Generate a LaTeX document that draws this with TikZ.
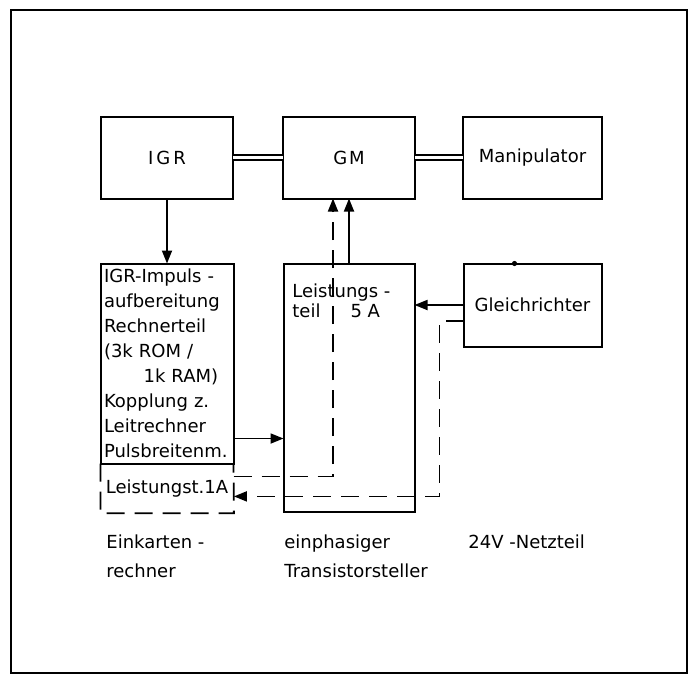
\documentclass[tikz,border=0pt]{standalone}
\usepackage{fontspec}
\setmainfont{DejaVu Sans}
\usetikzlibrary{arrows.meta,positioning}
\tikzset{
  box/.style={draw,rectangle,line width=1pt,inner sep=2pt,outer sep=0pt,font=\fontsize{9}{12.5}\selectfont},
  dbl/.style={double,double distance=1.6pt,line width=0.9pt},
  arr/.style={-{Triangle[length=6.5pt,width=5pt]},line width=0.9pt},
  sig/.style={dash pattern=on 9pt off 5pt,line width=0.9pt},
  lbl/.style={anchor=north west,align=left,inner sep=0pt,font=\fontsize{9}{14.5}\selectfont}
}

\begin{document}
\begin{tikzpicture}[x=0.5pt,y=-0.5pt,node distance=32.5pt and 25pt]
\useasboundingbox (0,0) rectangle (699,680);
\draw[line width=1.1pt] (11,10) rectangle (687,673);

% obere Reihe
\node[box,minimum width=66pt,minimum height=41pt] (igr) at (167,157.5) {I\kern1.5pt G\kern1.5pt R};
\node[box,minimum width=66pt,minimum height=41pt,right=of igr] (gm) {G\kern1pt M};
\node[box,minimum width=69.5pt,minimum height=41pt,right=24pt of gm] (manip) {Manipulator};

% untere Reihe
\node[box,below=of igr,minimum width=66.5pt,minimum height=100pt,text width=63pt,inner xsep=1.75pt,align=left] (rechner) {
IGR-Impuls -\\
aufbereitung\\
Rechnerteil\\
(3k ROM /\\
\hspace*{2.2em}1k RAM)\\
Kopplung z.\\
Leitrechner\\
Pulsbreitenm.
};
\node[minimum width=66.5pt,minimum height=24.5pt,inner sep=0pt,below=0pt of rechner,font=\fontsize{9}{12.5}\selectfont] (lst1a) {Leistungst.1A};

\node[box,below=of gm,minimum width=65.5pt,minimum height=124pt] (lst5) {};
\node[anchor=north west,inner sep=0pt,align=left,font=\fontsize{9}{10}\selectfont] (lst5txt) at ([xshift=4.25pt,yshift=-10pt]lst5.north west) {Leistungs -\\teil\hspace{15pt}5 A};

\node[box,below=of manip,minimum width=69pt,minimum height=41.5pt] (gleich) {Gleichrichter};
\fill ([xshift=-9pt]gleich.north) circle (1.3pt);

\draw[sig] (rechner.south west) |- (lst1a.south east) -- (rechner.south east);

\draw[dbl] (igr.east) -- (gm.west);
\draw[dbl] (gm.east) -- (manip.west);
\draw[arr] (igr.south) -- (rechner.north);
\draw[arr] (lst5.north) -- (gm.south);
\draw[sig,arr] ([yshift=-6.5pt]rechner.south east) -| ([xshift=-8pt]gm.south);
\draw[arr] ([yshift=-37.5pt]rechner.east) -- ([yshift=-37.5pt]rechner.east -| lst5.west);
\draw[arr] (gleich.west) -- (gleich.west -| lst5.east);
\draw[sig,arr] ([yshift=-8pt]gleich.west) -- ++(-12pt,0) |- ([yshift=-4pt]lst1a.east);

% Beschriftung
\node[lbl] (lblrechner) at (106,534) {Einkarten -\\rechner};
\node[lbl] (lblsteller) at (284,534) {einphasiger\\Transistorsteller};
\node[lbl] (lblnetz) at (468,534) {24V -Netzteil};

\end{tikzpicture}
\end{document}
